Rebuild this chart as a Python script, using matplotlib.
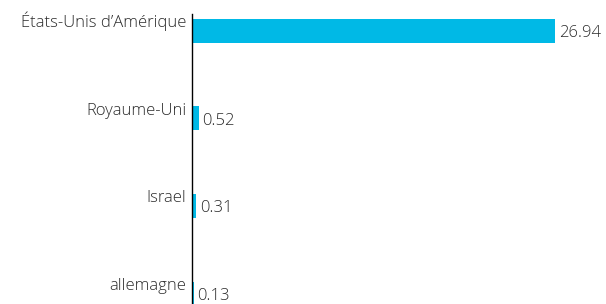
import matplotlib
matplotlib.use("Agg")
import matplotlib.pyplot as plt
from matplotlib.transforms import offset_copy

categories = ["États-Unis d’Amérique", "Royaume-Uni", "Israel", "allemagne"]
values = [26.94, 0.52, 0.31, 0.13]
value_labels = ["26.94", "0.52", "0.31", "0.13"]

plt.rcParams['font.family'] = ['Open Sans', 'DejaVu Sans']
color = "#00B9E6"
text_color = "#2b2b2b"

fig = plt.figure(figsize=(6.06, 3.04), dpi=100)
ax = fig.add_axes([192/606, 0, 1 - 192/606, 290/304])

ypos = list(range(len(categories)))
ax.barh(ypos, values, height=0.274, color=color)
ax.set_xlim(0, 30.7)
ax.set_ylim(3.12, -0.194)

for s in ["top", "right", "bottom"]:
    ax.spines[s].set_visible(False)
ax.spines["left"].set_color("#000000")
ax.spines["left"].set_linewidth(1)
ax.set_xticks([])
ax.set_yticks([])

lab_tr = offset_copy(ax.transData, fig=fig, x=-4, y=0, units='points')
val_tr = offset_copy(ax.transData, fig=fig, x=2.5, y=-1.5, units='points')
for y, c, v, vl in zip(ypos, categories, values, value_labels):
    ax.text(0, y - 0.04, c, ha='right', va='baseline', fontsize=12, color=text_color,
            fontweight='light', transform=lab_tr, clip_on=False)
    ax.text(v, y, vl, ha='left', va='center', fontsize=12, color=text_color,
            fontweight='light', transform=val_tr, clip_on=False)

fig.savefig("out.png", dpi=100)
